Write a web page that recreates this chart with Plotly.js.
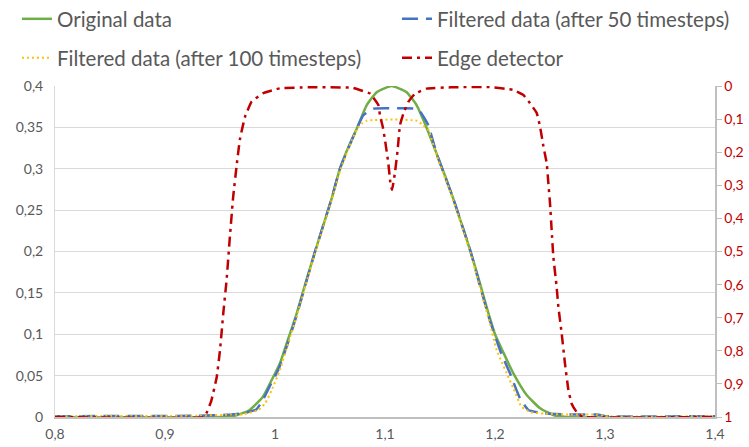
<!DOCTYPE html>
<html>
<head>
<meta charset="utf-8">
<script src="https://cdn.plot.ly/plotly-3.0.1.min.js"></script>
<style>html,body{margin:0;padding:0;background:#fff;}#chart{width:749px;height:447px;}</style>
</head>
<body>
<div id="chart"></div>
<script>
// Original data (left axis)
const origX = [0.80, 0.95, 0.965, 0.977, 0.989, 0.997, 1.0045, 1.0106, 1.0197, 1.028, 1.0364, 1.0515, 1.059, 1.066, 1.0742, 1.0833, 1.0924, 1.100, 1.106, 1.112, 1.1197, 1.1288, 1.138, 1.147, 1.155, 1.162, 1.170, 1.178, 1.186, 1.193, 1.200, 1.2076, 1.2167, 1.2288, 1.241, 1.253, 1.265, 1.40];
const origY = [0, 0, 0.002, 0.0085, 0.0245, 0.0447, 0.065, 0.089, 0.125, 0.163, 0.200, 0.264, 0.300, 0.324, 0.348, 0.3766, 0.3925, 0.3975, 0.400, 0.3975, 0.3925, 0.3766, 0.349, 0.318, 0.290, 0.264, 0.232, 0.199, 0.163, 0.130, 0.100, 0.078, 0.0528, 0.0266, 0.0105, 0.0024, 0, 0];

// Filtered data (after 50 timesteps)
const f50X = [0.80, 0.93, 0.96, 0.971, 0.983, 0.989, 0.995, 1.003, 1.0106, 1.0197, 1.0364, 1.0515, 1.059, 1.0742, 1.0803, 1.0894, 1.107, 1.1288, 1.1333, 1.1394, 1.147, 1.162, 1.178, 1.186, 1.195, 1.2045, 1.2136, 1.2227, 1.2303, 1.2439, 1.268, 1.293, 1.30, 1.40];
const f50Y = [0.001, 0.0015, 0.003, 0.0045, 0.009, 0.0205, 0.0366, 0.057, 0.085, 0.123, 0.200, 0.264, 0.300, 0.348, 0.3646, 0.3725, 0.373, 0.3725, 0.3665, 0.3525, 0.318, 0.264, 0.199, 0.160, 0.118, 0.081, 0.0528, 0.0226, 0.0085, 0.0045, 0.003, 0.003, 0.001, 0.001];

// Filtered data (after 100 timesteps)
const f100X = [0.80, 0.93, 0.96, 0.971, 0.985, 0.991, 0.997, 1.0045, 1.012, 1.0197, 1.0364, 1.0515, 1.059, 1.070, 1.0757, 1.0788, 1.0833, 1.107, 1.1288, 1.1348, 1.1394, 1.147, 1.162, 1.178, 1.186, 1.195, 1.2015, 1.2167, 1.224, 1.232, 1.245, 1.268, 1.293, 1.30, 1.40];
const f100Y = [0.001, 0.0015, 0.003, 0.003, 0.0085, 0.0165, 0.0326, 0.057, 0.089, 0.122, 0.198, 0.262, 0.297, 0.335, 0.3505, 0.3545, 0.358, 0.3595, 0.358, 0.3525, 0.347, 0.316, 0.262, 0.197, 0.158, 0.115, 0.081, 0.0346, 0.0125, 0.006, 0.004, 0.003, 0.003, 0.001, 0.001];

// Edge detector (right axis, reversed)
const edgeX = [0.80, 0.935, 0.938, 0.942, 0.947, 0.950, 0.953, 0.956, 0.959, 0.962, 0.965, 0.968, 0.9727, 0.9788, 0.989, 1.0045, 1.03, 1.07, 1.077, 1.0864, 1.094, 1.0955, 1.098, 1.100, 1.103, 1.105, 1.1064, 1.109, 1.1115, 1.1136, 1.1167, 1.1212, 1.1273, 1.138, 1.16, 1.195, 1.2167, 1.2258, 1.2318, 1.238, 1.2409, 1.244, 1.247, 1.2485, 1.250, 1.2515, 1.253, 1.256, 1.2576, 1.2606, 1.2636, 1.2667, 1.2697, 1.274, 1.277, 1.280, 1.40];
const edgeY = [1, 1, 0.986, 0.952, 0.88, 0.798, 0.686, 0.586, 0.455, 0.334, 0.244, 0.163, 0.093, 0.047, 0.022, 0.007, 0.004, 0.005, 0.012, 0.023, 0.058, 0.09, 0.124, 0.163, 0.233, 0.295, 0.314, 0.263, 0.193, 0.118, 0.0836, 0.048, 0.023, 0.008, 0.004, 0.003, 0.012, 0.027, 0.052, 0.082, 0.122, 0.182, 0.233, 0.293, 0.354, 0.435, 0.515, 0.606, 0.667, 0.747, 0.838, 0.918, 0.96, 0.984, 0.994, 1, 1];

const seriesNames = ["Original data", "Filtered data (after 50 timesteps)", "Filtered data (after 100 timesteps)", "Edge detector"];
const xTicks = [0.8, 0.9, 1.0, 1.1, 1.2, 1.3, 1.4];

const FONT = "Lato, 'Open Sans', sans-serif";
const GRAY = "#595959";

const traces = [
  {x: origX, y: origY, name: seriesNames[0], type: "scatter", mode: "lines",
   line: {color: "#70AD47", width: 2.5, shape: "spline", smoothing: 0.5}, legend: "legend"},
  {x: f50X, y: f50Y, name: seriesNames[1], type: "scatter", mode: "lines",
   line: {color: "#4472C4", width: 2.5, dash: "16px,8px", shape: "spline", smoothing: 0.4}, legend: "legend2"},
  {x: f100X, y: f100Y, name: seriesNames[2], type: "scatter", mode: "lines",
   line: {color: "#FFC000", width: 2, dash: "2px,3px", shape: "spline", smoothing: 0.4}, legend: "legend3"},
  {x: edgeX, y: edgeY, name: seriesNames[3], type: "scatter", mode: "lines", yaxis: "y2",
   line: {color: "#C00000", width: 2.5, dash: "10px,5px,3px,5px", shape: "spline", smoothing: 0.3}, legend: "legend4"}
];

const legendCommon = {
  orientation: "h", xref: "container", yref: "container", xanchor: "left", yanchor: "middle",
  font: {family: FONT, size: 20.5, color: GRAY},
  bgcolor: "rgba(0,0,0,0)", borderwidth: 0, itemwidth: 30
};
const row1 = 1 - 19/447, row2 = 1 - 58/447;
const colA = 17/749, colB = 397/749;

const layout = {
  width: 749, height: 447,
  margin: {l: 55, r: 34, t: 86, b: 30, pad: 0},
  paper_bgcolor: "#fff", plot_bgcolor: "#fff",
  separators: ", ",
  font: {family: FONT, size: 14, color: GRAY},
  showlegend: true,
  legend: Object.assign({}, legendCommon, {x: colA, y: row1}),
  legend2: Object.assign({}, legendCommon, {x: colB, y: row1}),
  legend3: Object.assign({}, legendCommon, {x: colA, y: row2}),
  legend4: Object.assign({}, legendCommon, {x: colB, y: row2}),
  xaxis: {range: [0.8, 1.4], tickvals: xTicks, showgrid: false, zeroline: false,
          showline: true, linecolor: "#bfbfbf", linewidth: 1.5, ticks: "", ticklabelstandoff: 4,
          tickfont: {family: FONT, size: 14, color: GRAY}},
  yaxis: {range: [0, 0.4], dtick: 0.05, tick0: 0, showgrid: true, gridcolor: "#d9d9d9", gridwidth: 1,
          zeroline: false, showline: true, linecolor: "#d9d9d9", ticks: "", ticklabelstandoff: 8,
          tickfont: {family: FONT, size: 14, color: GRAY}},
  yaxis2: {range: [1, 0], dtick: 0.1, tick0: 0, overlaying: "y", side: "right", showgrid: false,
           zeroline: false, showline: true, linecolor: "#bfbfbf", linewidth: 1.5,
           ticks: "outside", ticklen: 5, tickcolor: "#bfbfbf",
           tickfont: {family: FONT, size: 14, color: "#C00000"}}
};

Plotly.newPlot("chart", traces, layout, {displayModeBar: false, staticPlot: true});
</script>
</body>
</html>
